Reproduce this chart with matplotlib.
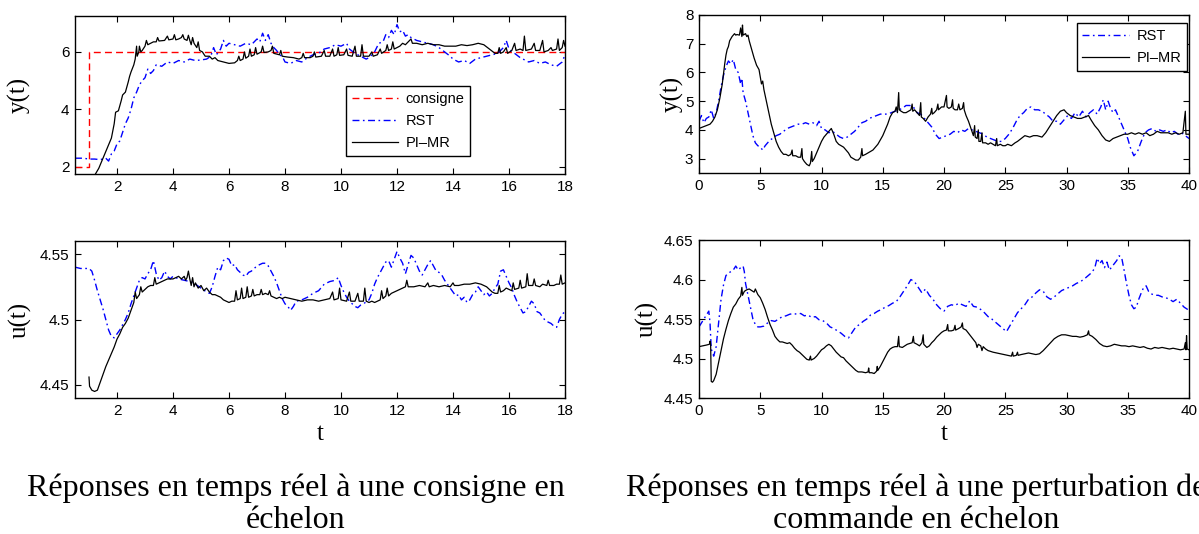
import numpy as np
import matplotlib
matplotlib.use("Agg")
import matplotlib.pyplot as plt

# ---- left: step on set-point ----
consigne_t = [0.5, 1.0, 1.0, 18.0]
consigne_y = [2.0, 2.0, 6.0, 6.0]

y1_pimr = [(1.2, 1.70), (1.35, 1.95), (1.5, 2.3), (1.65, 2.65), (1.8, 3.0), (1.9, 3.5), (1.95, 3.9), (2.05, 3.95),
           (2.15, 4.3), (2.2, 4.5), (2.3, 4.6), (2.4, 4.95), (2.45, 5.15), (2.5, 5.3), (2.6, 5.55), (2.65, 5.75),
           (2.7, 6.2), (2.72, 5.85), (2.78, 6.0), (2.8, 6.2), (2.85, 6.0), (2.9, 6.05), (3.0, 6.2), (3.05, 6.4),
           (3.1, 6.25), (3.2, 6.3), (3.3, 6.35), (3.4, 6.35), (3.45, 6.5), (3.5, 6.38), (3.7, 6.4), (3.8, 6.55),
           (3.85, 6.42), (4.0, 6.45), (4.05, 6.6), (4.1, 6.42), (4.2, 6.45), (4.3, 6.5), (4.35, 6.6), (4.4, 6.45),
           (4.5, 6.4), (4.55, 6.58), (4.6, 6.4), (4.65, 6.25), (4.7, 6.5), (4.75, 6.3), (4.85, 6.15), (4.9, 6.35),
           (4.95, 6.05), (5.05, 6.0), (5.15, 5.85), (5.3, 5.85), (5.4, 5.75), (5.5, 5.8), (5.6, 5.7), (5.8, 5.65),
           (6.0, 5.6), (6.2, 5.62), (6.3, 5.7), (6.35, 5.85), (6.4, 5.7), (6.5, 5.75), (6.55, 6.0), (6.6, 5.78),
           (6.7, 5.85), (6.75, 6.1), (6.8, 5.85), (6.9, 5.9), (6.95, 6.15), (7.0, 5.92), (7.15, 6.0), (7.2, 6.2),
           (7.25, 5.98), (7.4, 6.0), (7.5, 6.05), (7.55, 6.2), (7.6, 5.95), (7.8, 5.9), (7.85, 6.05), (7.9, 5.85),
           (8.1, 5.82), (8.3, 5.8), (8.5, 5.75), (8.6, 5.8), (8.65, 5.95), (8.7, 5.8), (8.9, 5.8), (9.0, 5.85),
           (9.05, 6.0), (9.1, 5.82), (9.3, 5.85), (9.4, 6.05), (9.45, 5.85), (9.6, 5.85), (9.7, 6.1), (9.75, 5.85),
           (9.85, 5.9), (9.9, 6.15), (9.95, 5.88), (10.1, 5.9), (10.2, 6.1), (10.25, 5.88), (10.4, 5.85),
           (10.5, 6.2), (10.55, 5.85), (10.7, 5.85), (10.75, 6.25), (10.8, 5.85), (11.0, 5.85), (11.1, 6.0),
           (11.15, 5.85), (11.3, 5.9), (11.4, 6.1), (11.45, 5.95), (11.6, 6.05), (11.65, 6.25), (11.7, 6.05),
           (11.8, 6.1), (11.85, 6.35), (11.9, 6.1), (12.0, 6.15), (12.1, 6.2), (12.2, 6.3), (12.3, 6.25),
           (12.4, 6.35), (12.5, 6.45), (12.55, 6.3), (12.7, 6.3), (12.9, 6.25), (13.1, 6.3), (13.3, 6.25),
           (13.5, 6.25), (13.7, 6.2), (13.9, 6.2), (14.1, 6.2), (14.3, 6.25), (14.5, 6.22), (14.7, 6.25),
           (14.9, 6.3), (15.1, 6.25), (15.3, 6.1), (15.5, 5.95), (15.6, 5.95), (15.65, 6.15), (15.7, 5.95),
           (15.8, 6.0), (15.9, 6.15), (15.95, 5.95), (16.1, 6.05), (16.2, 6.3), (16.25, 6.05), (16.4, 6.1),
           (16.5, 6.05), (16.55, 6.55), (16.6, 6.05), (16.8, 6.1), (16.9, 6.3), (16.95, 6.05), (17.1, 6.05),
           (17.2, 6.4), (17.25, 6.0), (17.4, 6.05), (17.5, 6.15), (17.55, 6.05), (17.7, 6.1), (17.75, 6.45),
           (17.8, 6.05), (17.9, 6.15), (17.95, 6.4), (18.0, 6.2)]

y1_rst = [(0.5, 2.3), (0.8, 2.3), (1.0, 2.27), (1.2, 2.27), (1.4, 2.25), (1.6, 2.3), (1.7, 2.2), (1.8, 2.45),
          (1.9, 2.55), (2.0, 2.8), (2.1, 2.9), (2.2, 3.2), (2.3, 3.5), (2.4, 3.7), (2.5, 4.0), (2.6, 4.4),
          (2.7, 4.6), (2.8, 4.85), (2.9, 5.0), (3.0, 5.1), (3.1, 5.4), (3.2, 5.25), (3.3, 5.35), (3.4, 5.55),
          (3.6, 5.5), (3.8, 5.65), (4.0, 5.6), (4.2, 5.7), (4.4, 5.65), (4.6, 5.75), (4.8, 5.7), (5.0, 5.72),
          (5.2, 5.75), (5.35, 5.85), (5.45, 6.15), (5.55, 5.9), (5.7, 6.1), (5.8, 6.4), (5.9, 6.2), (6.0, 6.3),
          (6.2, 6.25), (6.4, 6.2), (6.6, 6.3), (6.8, 6.25), (7.0, 6.45), (7.1, 6.35), (7.2, 6.65), (7.3, 6.4),
          (7.4, 6.6), (7.5, 6.3), (7.6, 6.15), (7.7, 6.05), (7.8, 5.9), (7.9, 5.85), (8.0, 5.65), (8.2, 5.6),
          (8.4, 5.7), (8.6, 5.65), (8.8, 5.8), (9.0, 5.9), (9.2, 5.95), (9.4, 6.1), (9.6, 6.15), (9.8, 6.25),
          (10.0, 6.2), (10.2, 6.3), (10.3, 6.1), (10.5, 5.95), (10.7, 5.85), (10.9, 5.75), (11.0, 5.8),
          (11.2, 6.0), (11.35, 6.3), (11.5, 6.35), (11.6, 6.6), (11.7, 6.5), (11.8, 6.75), (11.9, 6.6),
          (12.0, 6.95), (12.1, 6.7), (12.2, 6.75), (12.3, 6.55), (12.4, 6.6), (12.5, 6.5), (12.7, 6.4),
          (12.9, 6.35), (13.1, 6.3), (13.3, 6.25), (13.5, 6.15), (13.7, 6.0), (13.9, 5.85), (14.0, 5.75),
          (14.2, 5.65), (14.4, 5.7), (14.6, 5.6), (14.8, 5.75), (15.0, 5.8), (15.2, 5.85), (15.4, 5.9),
          (15.6, 5.95), (15.8, 6.15), (15.9, 6.4), (16.0, 6.1), (16.2, 5.95), (16.4, 5.8), (16.5, 5.75),
          (16.7, 5.65), (16.9, 5.7), (17.1, 5.6), (17.3, 5.65), (17.5, 5.55), (17.7, 5.5), (17.9, 5.65),
          (18.0, 5.9)]

u1_pimr = [(1.0, 4.456), (1.02, 4.449), (1.1, 4.446), (1.2, 4.445), (1.3, 4.446), (1.4, 4.452), (1.5, 4.458),
           (1.6, 4.464), (1.7, 4.469), (1.8, 4.474), (1.9, 4.479), (2.0, 4.485), (2.1, 4.489), (2.2, 4.494),
           (2.3, 4.497), (2.4, 4.501), (2.5, 4.507), (2.6, 4.513), (2.65, 4.521), (2.7, 4.516), (2.8, 4.519),
           (2.85, 4.525), (2.9, 4.521), (3.0, 4.523), (3.1, 4.525), (3.2, 4.526), (3.3, 4.526), (3.35, 4.532),
           (3.4, 4.527), (3.5, 4.528), (3.6, 4.529), (3.7, 4.530), (3.8, 4.531), (3.9, 4.531), (4.0, 4.531),
           (4.1, 4.532), (4.2, 4.533), (4.3, 4.531), (4.4, 4.533), (4.45, 4.530), (4.5, 4.532), (4.55, 4.537),
           (4.6, 4.531), (4.65, 4.526), (4.7, 4.532), (4.75, 4.525), (4.8, 4.528), (4.9, 4.524), (5.0, 4.526),
           (5.1, 4.522), (5.2, 4.524), (5.3, 4.521), (5.4, 4.519), (5.5, 4.519), (5.6, 4.518), (5.7, 4.517),
           (5.8, 4.515), (5.9, 4.514), (6.0, 4.513), (6.1, 4.514), (6.2, 4.514), (6.25, 4.522), (6.3, 4.515),
           (6.4, 4.516), (6.45, 4.524), (6.5, 4.516), (6.6, 4.517), (6.65, 4.525), (6.7, 4.517), (6.8, 4.518),
           (6.85, 4.523), (6.9, 4.518), (7.0, 4.519), (7.1, 4.519), (7.15, 4.523), (7.2, 4.519), (7.3, 4.520),
           (7.4, 4.519), (7.45, 4.522), (7.5, 4.518), (7.6, 4.517), (7.7, 4.516), (7.8, 4.517), (7.9, 4.516),
           (8.0, 4.517), (8.2, 4.516), (8.4, 4.515), (8.6, 4.514), (8.8, 4.515), (9.0, 4.515), (9.2, 4.514),
           (9.4, 4.515), (9.6, 4.516), (9.7, 4.521), (9.75, 4.515), (9.9, 4.516), (9.95, 4.524), (10.0, 4.515),
           (10.2, 4.514), (10.3, 4.521), (10.35, 4.514), (10.5, 4.514), (10.6, 4.520), (10.65, 4.514),
           (10.8, 4.514), (10.85, 4.524), (10.9, 4.514), (11.0, 4.513), (11.1, 4.514), (11.2, 4.513),
           (11.3, 4.514), (11.4, 4.515), (11.45, 4.522), (11.5, 4.516), (11.6, 4.518), (11.65, 4.524),
           (11.7, 4.518), (11.8, 4.520), (11.9, 4.521), (12.0, 4.522), (12.1, 4.523), (12.2, 4.524),
           (12.3, 4.525), (12.35, 4.530), (12.4, 4.525), (12.6, 4.525), (12.8, 4.526), (13.0, 4.525),
           (13.1, 4.528), (13.15, 4.525), (13.3, 4.526), (13.5, 4.525), (13.7, 4.526), (13.9, 4.525),
           (14.0, 4.528), (14.05, 4.526), (14.2, 4.526), (14.4, 4.527), (14.6, 4.527), (14.8, 4.528),
           (15.0, 4.527), (15.2, 4.525), (15.4, 4.521), (15.5, 4.520), (15.6, 4.520), (15.65, 4.526),
           (15.7, 4.521), (15.8, 4.522), (15.9, 4.524), (16.0, 4.523), (16.1, 4.522), (16.15, 4.528),
           (16.2, 4.523), (16.35, 4.524), (16.4, 4.530), (16.45, 4.524), (16.6, 4.525), (16.65, 4.535),
           (16.7, 4.526), (16.85, 4.526), (16.9, 4.531), (16.95, 4.526), (17.1, 4.525), (17.2, 4.527),
           (17.35, 4.526), (17.4, 4.530), (17.45, 4.526), (17.6, 4.526), (17.7, 4.527), (17.8, 4.527),
           (17.85, 4.534), (17.9, 4.527), (18.0, 4.528)]

u1_rst = [(0.5, 4.540), (0.7, 4.539), (1.0, 4.539), (1.1, 4.537), (1.2, 4.530), (1.3, 4.522), (1.4, 4.515),
          (1.5, 4.508), (1.6, 4.500), (1.7, 4.492), (1.8, 4.487), (1.9, 4.486), (2.0, 4.489), (2.1, 4.492),
          (2.2, 4.496), (2.3, 4.500), (2.4, 4.505), (2.5, 4.512), (2.6, 4.518), (2.7, 4.524), (2.8, 4.530),
          (2.9, 4.532), (3.0, 4.531), (3.1, 4.535), (3.2, 4.538), (3.3, 4.545), (3.4, 4.535), (3.5, 4.530),
          (3.6, 4.532), (3.7, 4.537), (3.8, 4.533), (3.9, 4.531), (4.0, 4.533), (4.2, 4.531), (4.4, 4.530),
          (4.6, 4.529), (4.8, 4.527), (5.0, 4.524), (5.2, 4.521), (5.3, 4.520), (5.4, 4.525), (5.5, 4.533),
          (5.6, 4.540), (5.7, 4.538), (5.8, 4.545), (5.9, 4.547), (6.0, 4.546), (6.1, 4.541), (6.2, 4.542),
          (6.3, 4.538), (6.4, 4.536), (6.5, 4.534), (6.6, 4.533), (6.7, 4.536), (6.8, 4.537), (6.9, 4.539),
          (7.0, 4.541), (7.1, 4.542), (7.2, 4.543), (7.3, 4.543), (7.4, 4.541), (7.5, 4.537), (7.6, 4.533),
          (7.7, 4.528), (7.8, 4.522), (7.9, 4.516), (8.0, 4.512), (8.1, 4.510), (8.2, 4.507), (8.3, 4.510),
          (8.4, 4.514), (8.6, 4.515), (8.8, 4.517), (9.0, 4.520), (9.2, 4.522), (9.4, 4.527), (9.6, 4.529),
          (9.8, 4.530), (9.9, 4.532), (10.0, 4.526), (10.1, 4.521), (10.2, 4.517), (10.3, 4.514), (10.4, 4.512),
          (10.5, 4.510), (10.6, 4.509), (10.7, 4.511), (10.8, 4.512), (11.0, 4.515), (11.1, 4.520),
          (11.2, 4.527), (11.3, 4.532), (11.4, 4.536), (11.5, 4.540), (11.6, 4.544), (11.7, 4.545),
          (11.8, 4.540), (11.9, 4.546), (12.0, 4.552), (12.1, 4.547), (12.2, 4.543), (12.3, 4.535),
          (12.4, 4.542), (12.5, 4.549), (12.6, 4.547), (12.7, 4.542), (12.8, 4.537), (12.9, 4.534),
          (13.0, 4.538), (13.1, 4.542), (13.2, 4.545), (13.3, 4.541), (13.4, 4.537), (13.5, 4.536),
          (13.6, 4.534), (13.7, 4.530), (13.8, 4.527), (13.9, 4.524), (14.0, 4.521), (14.1, 4.518),
          (14.2, 4.519), (14.3, 4.515), (14.4, 4.517), (14.5, 4.513), (14.6, 4.515), (14.7, 4.519),
          (14.8, 4.521), (14.9, 4.525), (15.0, 4.522), (15.1, 4.519), (15.2, 4.521), (15.3, 4.518),
          (15.4, 4.520), (15.5, 4.524), (15.6, 4.527), (15.7, 4.537), (15.8, 4.538), (15.9, 4.533),
          (16.0, 4.528), (16.1, 4.524), (16.2, 4.518), (16.3, 4.513), (16.4, 4.509), (16.5, 4.505),
          (16.6, 4.506), (16.7, 4.510), (16.8, 4.514), (16.9, 4.512), (17.0, 4.506), (17.1, 4.505),
          (17.2, 4.502), (17.3, 4.499), (17.4, 4.498), (17.5, 4.497), (17.6, 4.495), (17.7, 4.494),
          (17.8, 4.500), (17.9, 4.504), (18.0, 4.506)]

# ---- right: step disturbance on the command ----
y2_pimr = [(0.0, 4.05), (0.3, 4.1), (0.6, 4.15), (0.9, 4.2), (1.1, 4.3), (1.3, 4.45), (1.5, 4.7), (1.7, 5.1),
           (1.9, 5.6), (2.1, 6.3), (2.2, 6.6), (2.3, 6.8), (2.4, 6.9), (2.5, 7.1), (2.7, 7.25), (2.9, 7.35),
           (3.0, 7.3), (3.1, 7.32), (3.3, 7.3), (3.4, 7.55), (3.5, 7.25), (3.55, 7.65), (3.6, 7.3), (3.8, 7.35),
           (3.9, 7.25), (4.0, 7.3), (4.1, 7.1), (4.3, 6.8), (4.5, 6.5), (4.7, 6.25), (4.9, 6.1), (5.0, 5.85),
           (5.1, 5.6), (5.2, 5.7), (5.3, 5.4), (5.5, 5.0), (5.7, 4.6), (5.9, 4.2), (6.1, 3.9), (6.3, 3.6),
           (6.5, 3.4), (6.7, 3.25), (6.9, 3.15), (7.1, 3.15), (7.3, 3.1), (7.5, 3.15), (7.6, 3.3), (7.65, 3.1),
           (7.9, 3.1), (8.1, 3.05), (8.3, 3.05), (8.4, 3.35), (8.45, 3.0), (8.6, 2.9), (8.8, 2.8), (9.0, 2.75),
           (9.1, 2.85), (9.2, 3.25), (9.25, 2.9), (9.4, 3.0), (9.6, 3.2), (9.8, 3.4), (10.0, 3.6), (10.2, 3.75),
           (10.4, 3.85), (10.6, 3.95), (10.8, 4.05), (11.0, 3.85), (11.2, 3.6), (11.4, 3.5), (11.6, 3.45),
           (11.8, 3.4), (12.0, 3.3), (12.2, 3.2), (12.4, 3.05), (12.6, 3.0), (12.8, 2.95), (13.0, 2.95),
           (13.2, 3.05), (13.3, 3.35), (13.35, 3.1), (13.6, 3.15), (13.8, 3.2), (14.0, 3.25), (14.2, 3.3),
           (14.4, 3.4), (14.6, 3.5), (14.8, 3.65), (15.0, 3.8), (15.2, 4.0), (15.4, 4.2), (15.6, 4.45),
           (15.8, 4.6), (16.0, 4.65), (16.1, 4.8), (16.2, 4.6), (16.3, 5.3), (16.35, 4.7), (16.5, 4.65),
           (16.7, 4.6), (16.9, 4.6), (17.1, 4.65), (17.3, 4.7), (17.4, 4.9), (17.45, 4.65), (17.6, 4.7),
           (17.8, 4.6), (18.0, 4.5), (18.1, 4.95), (18.15, 4.45), (18.3, 4.4), (18.5, 4.3), (18.7, 4.45),
           (18.9, 4.55), (19.0, 4.75), (19.05, 4.55), (19.2, 4.6), (19.4, 4.7), (19.5, 4.9), (19.55, 4.7),
           (19.8, 4.8), (20.0, 4.8), (20.2, 5.2), (20.25, 4.8), (20.4, 4.75), (20.6, 4.8), (20.7, 5.05),
           (20.75, 4.75), (20.9, 4.7), (21.1, 4.7), (21.2, 4.9), (21.3, 4.7), (21.5, 4.75), (21.6, 4.95),
           (21.65, 4.7), (21.8, 4.5), (22.0, 4.3), (22.2, 4.05), (22.4, 3.8), (22.5, 4.15), (22.55, 3.75),
           (22.7, 3.7), (22.8, 4.0), (22.85, 3.6), (23.0, 3.6), (23.1, 3.9), (23.15, 3.55), (23.4, 3.55),
           (23.6, 3.5), (23.8, 3.55), (24.0, 3.5), (24.2, 3.45), (24.3, 3.7), (24.35, 3.45), (24.6, 3.5),
           (24.8, 3.45), (25.0, 3.45), (25.2, 3.5), (25.5, 3.45), (25.8, 3.55), (26.0, 3.6), (26.3, 3.7),
           (26.6, 3.8), (27.0, 3.75), (27.3, 3.8), (27.6, 3.8), (28.0, 3.75), (28.3, 3.9), (28.6, 4.1),
           (28.9, 4.3), (29.2, 4.5), (29.5, 4.65), (29.8, 4.7), (30.0, 4.6), (30.3, 4.5), (30.6, 4.45),
           (30.9, 4.4), (31.2, 4.4), (31.5, 4.45), (31.8, 4.5), (32.0, 4.35), (32.3, 4.15), (32.6, 4.0),
           (32.9, 3.8), (33.2, 3.65), (33.5, 3.6), (33.8, 3.7), (34.1, 3.75), (34.4, 3.8), (34.7, 3.85),
           (35.0, 3.85), (35.3, 3.9), (35.6, 3.85), (35.9, 3.9), (36.2, 3.85), (36.5, 3.9), (36.8, 3.8),
           (37.1, 3.85), (37.4, 3.95), (37.7, 3.9), (38.0, 3.9), (38.3, 3.9), (38.6, 3.85), (38.9, 3.9),
           (39.2, 3.85), (39.5, 3.9), (39.7, 4.65), (39.75, 3.85), (40.0, 3.85)]

y2_rst = [(0.0, 4.3), (0.2, 4.5), (0.4, 4.25), (0.6, 4.4), (0.8, 4.45), (1.0, 4.7), (1.2, 4.4), (1.4, 4.6),
          (1.6, 5.0), (1.8, 5.5), (2.0, 5.9), (2.2, 6.2), (2.4, 6.4), (2.6, 6.3), (2.8, 6.45), (3.0, 6.1),
          (3.2, 6.0), (3.4, 5.6), (3.5, 5.8), (3.6, 5.3), (3.8, 5.0), (4.0, 4.6), (4.2, 4.2), (4.4, 3.8),
          (4.6, 3.55), (4.8, 3.45), (5.0, 3.4), (5.2, 3.3), (5.4, 3.45), (5.6, 3.55), (5.8, 3.65), (6.0, 3.7),
          (6.3, 3.8), (6.6, 3.85), (6.9, 3.95), (7.2, 4.05), (7.5, 4.1), (7.8, 4.15), (8.1, 4.2), (8.4, 4.2),
          (8.7, 4.25), (9.0, 4.2), (9.3, 4.25), (9.6, 4.15), (9.8, 4.3), (10.0, 4.05), (10.3, 4.0), (10.6, 3.9),
          (10.9, 3.95), (11.2, 3.85), (11.5, 3.75), (11.8, 3.7), (12.1, 3.75), (12.4, 3.85), (12.7, 3.95),
          (13.0, 4.1), (13.3, 4.25), (13.6, 4.3), (13.9, 4.4), (14.2, 4.45), (14.5, 4.5), (14.8, 4.55),
          (15.1, 4.55), (15.4, 4.55), (15.7, 4.6), (16.0, 4.65), (16.3, 4.7), (16.6, 4.75), (16.9, 4.85),
          (17.2, 4.85), (17.5, 4.8), (17.8, 4.6), (18.1, 4.55), (18.4, 4.4), (18.7, 4.25), (19.0, 4.1),
          (19.3, 3.85), (19.6, 3.7), (19.9, 3.75), (20.2, 3.8), (20.5, 3.85), (20.8, 3.95), (21.1, 3.9),
          (21.4, 4.0), (21.7, 3.95), (22.0, 4.05), (22.3, 4.0), (22.6, 3.95), (22.9, 3.9), (23.2, 3.85),
          (23.5, 3.75), (23.8, 3.7), (24.1, 3.65), (24.4, 3.6), (24.7, 3.6), (25.0, 3.7), (25.3, 3.85),
          (25.6, 4.05), (25.9, 4.3), (26.2, 4.5), (26.5, 4.6), (26.8, 4.75), (27.1, 4.8), (27.4, 4.7),
          (27.7, 4.7), (28.0, 4.65), (28.3, 4.55), (28.6, 4.45), (28.9, 4.3), (29.2, 4.3), (29.5, 4.2),
          (29.8, 4.35), (30.1, 4.5), (30.4, 4.4), (30.7, 4.6), (31.0, 4.45), (31.3, 4.65), (31.6, 4.45),
          (31.9, 4.6), (32.2, 4.7), (32.5, 4.55), (32.8, 4.8), (33.0, 5.05), (33.2, 4.7), (33.4, 5.0),
          (33.6, 4.75), (33.8, 4.6), (34.0, 4.7), (34.2, 4.5), (34.4, 4.3), (34.6, 4.1), (34.8, 3.9),
          (35.0, 3.7), (35.2, 3.4), (35.5, 3.1), (35.8, 3.25), (36.1, 3.6), (36.4, 3.9), (36.7, 4.0),
          (37.0, 4.05), (37.3, 3.95), (37.6, 4.0), (37.9, 3.95), (38.2, 4.0), (38.5, 3.9), (38.8, 3.95),
          (39.1, 3.85), (39.4, 3.9), (39.7, 3.8), (40.0, 3.7)]

u2_pimr = [(0.0, 4.515), (0.3, 4.516), (0.6, 4.517), (0.85, 4.518), (0.9, 4.522), (0.95, 4.518), (1.0, 4.471),
           (1.1, 4.470), (1.2, 4.472), (1.4, 4.480), (1.6, 4.495), (1.8, 4.510), (2.0, 4.525), (2.2, 4.537),
           (2.4, 4.548), (2.6, 4.557), (2.8, 4.565), (3.0, 4.569), (3.2, 4.575), (3.4, 4.579), (3.5, 4.590),
           (3.55, 4.580), (3.7, 4.585), (3.9, 4.587), (4.1, 4.588), (4.3, 4.586), (4.5, 4.584), (4.6, 4.588),
           (4.8, 4.581), (5.0, 4.577), (5.2, 4.570), (5.4, 4.562), (5.6, 4.552), (5.8, 4.543), (6.0, 4.536),
           (6.2, 4.528), (6.4, 4.524), (6.6, 4.521), (6.8, 4.521), (7.0, 4.520), (7.2, 4.519), (7.4, 4.520),
           (7.6, 4.517), (7.8, 4.513), (8.0, 4.510), (8.2, 4.508), (8.4, 4.505), (8.6, 4.502), (8.8, 4.499),
           (9.0, 4.498), (9.1, 4.503), (9.15, 4.498), (9.4, 4.500), (9.6, 4.503), (9.8, 4.507), (10.0, 4.511),
           (10.2, 4.513), (10.4, 4.516), (10.6, 4.518), (10.8, 4.516), (11.0, 4.512), (11.2, 4.508),
           (11.4, 4.505), (11.6, 4.502), (11.8, 4.501), (12.0, 4.497), (12.2, 4.494), (12.4, 4.491),
           (12.6, 4.488), (12.8, 4.485), (13.0, 4.483), (13.3, 4.483), (13.6, 4.482), (13.8, 4.483),
           (13.85, 4.488), (13.9, 4.482), (14.1, 4.482), (14.3, 4.481), (14.5, 4.484), (14.55, 4.490),
           (14.6, 4.485), (14.8, 4.490), (15.0, 4.496), (15.2, 4.502), (15.4, 4.508), (15.6, 4.512),
           (15.8, 4.514), (16.0, 4.515), (16.2, 4.515), (16.3, 4.528), (16.35, 4.515), (16.6, 4.514),
           (16.8, 4.516), (17.0, 4.518), (17.2, 4.519), (17.4, 4.520), (17.5, 4.528), (17.55, 4.520),
           (17.8, 4.518), (18.0, 4.516), (18.2, 4.520), (18.3, 4.530), (18.35, 4.518), (18.6, 4.514),
           (18.8, 4.516), (19.0, 4.520), (19.2, 4.523), (19.4, 4.527), (19.6, 4.530), (19.8, 4.533),
           (20.0, 4.535), (20.2, 4.536), (20.3, 4.543), (20.35, 4.535), (20.6, 4.535), (20.8, 4.536),
           (20.9, 4.542), (20.95, 4.536), (21.2, 4.538), (21.4, 4.540), (21.5, 4.545), (21.55, 4.538),
           (21.8, 4.536), (22.0, 4.532), (22.2, 4.528), (22.4, 4.524), (22.6, 4.520), (22.7, 4.514),
           (22.8, 4.518), (23.0, 4.516), (23.1, 4.510), (23.2, 4.515), (23.4, 4.512), (23.6, 4.510),
           (23.8, 4.509), (24.0, 4.508), (24.3, 4.507), (24.6, 4.506), (24.9, 4.505), (25.2, 4.504),
           (25.5, 4.503), (25.6, 4.508), (25.65, 4.503), (25.9, 4.504), (26.0, 4.508), (26.05, 4.504),
           (26.3, 4.505), (26.6, 4.506), (26.9, 4.507), (27.2, 4.506), (27.5, 4.505), (27.8, 4.506),
           (28.1, 4.510), (28.4, 4.515), (28.7, 4.520), (29.0, 4.525), (29.3, 4.528), (29.6, 4.530),
           (29.9, 4.530), (30.2, 4.529), (30.5, 4.528), (30.8, 4.528), (31.1, 4.527), (31.4, 4.528),
           (31.7, 4.530), (31.8, 4.535), (31.85, 4.530), (32.1, 4.528), (32.4, 4.524), (32.7, 4.519),
           (33.0, 4.516), (33.3, 4.515), (33.6, 4.516), (33.9, 4.518), (34.2, 4.517), (34.5, 4.516),
           (34.8, 4.516), (35.1, 4.515), (35.4, 4.516), (35.7, 4.515), (36.0, 4.514), (36.3, 4.515),
           (36.6, 4.513), (36.9, 4.512), (37.2, 4.514), (37.5, 4.513), (37.8, 4.514), (38.1, 4.513),
           (38.4, 4.512), (38.7, 4.513), (39.0, 4.512), (39.3, 4.511), (39.6, 4.512), (39.7, 4.520),
           (39.75, 4.511), (39.8, 4.529), (39.85, 4.512), (40.0, 4.511)]

u2_rst = [(0.0, 4.540), (0.2, 4.545), (0.4, 4.550), (0.6, 4.555), (0.8, 4.560), (0.9, 4.545), (1.0, 4.512),
          (1.2, 4.503), (1.4, 4.515), (1.6, 4.545), (1.8, 4.575), (2.0, 4.593), (2.2, 4.605), (2.4, 4.608),
          (2.6, 4.610), (2.8, 4.612), (3.0, 4.617), (3.2, 4.612), (3.4, 4.615), (3.6, 4.617), (3.7, 4.610),
          (3.8, 4.595), (4.0, 4.580), (4.2, 4.565), (4.4, 4.550), (4.6, 4.543), (4.8, 4.540), (5.0, 4.540),
          (5.3, 4.541), (5.6, 4.545), (5.9, 4.548), (6.2, 4.547), (6.5, 4.550), (6.8, 4.553), (7.1, 4.554),
          (7.4, 4.556), (7.7, 4.557), (8.0, 4.556), (8.3, 4.557), (8.6, 4.554), (8.9, 4.555), (9.2, 4.552),
          (9.5, 4.553), (9.8, 4.549), (10.1, 4.548), (10.4, 4.545), (10.7, 4.540), (11.0, 4.538),
          (11.3, 4.535), (11.6, 4.532), (11.9, 4.528), (12.2, 4.526), (12.5, 4.533), (12.8, 4.540),
          (13.1, 4.543), (13.4, 4.547), (13.7, 4.550), (14.0, 4.555), (14.3, 4.557), (14.6, 4.560),
          (14.9, 4.562), (15.2, 4.565), (15.5, 4.567), (15.8, 4.570), (16.1, 4.572), (16.4, 4.578),
          (16.7, 4.585), (17.0, 4.592), (17.3, 4.600), (17.6, 4.597), (17.9, 4.590), (18.2, 4.583),
          (18.5, 4.588), (18.8, 4.580), (19.1, 4.575), (19.4, 4.568), (19.7, 4.563), (20.0, 4.560),
          (20.3, 4.566), (20.6, 4.568), (20.9, 4.567), (21.2, 4.570), (21.5, 4.568), (21.8, 4.566),
          (22.1, 4.573), (22.4, 4.566), (22.7, 4.565), (23.0, 4.562), (23.3, 4.558), (23.6, 4.553),
          (23.9, 4.550), (24.2, 4.546), (24.5, 4.542), (24.8, 4.538), (25.1, 4.534), (25.4, 4.542),
          (25.7, 4.550), (26.0, 4.558), (26.3, 4.563), (26.6, 4.568), (26.9, 4.575), (27.2, 4.578),
          (27.5, 4.583), (27.8, 4.587), (28.1, 4.585), (28.4, 4.578), (28.7, 4.575), (29.0, 4.578),
          (29.3, 4.582), (29.6, 4.586), (29.9, 4.588), (30.2, 4.590), (30.5, 4.592), (30.8, 4.595),
          (31.1, 4.597), (31.4, 4.600), (31.7, 4.604), (32.0, 4.608), (32.3, 4.614), (32.5, 4.627),
          (32.7, 4.620), (32.9, 4.624), (33.1, 4.615), (33.3, 4.622), (33.5, 4.612), (33.7, 4.616),
          (33.9, 4.620), (34.1, 4.624), (34.3, 4.630), (34.5, 4.628), (34.7, 4.612), (34.9, 4.595),
          (35.1, 4.580), (35.3, 4.568), (35.5, 4.563), (35.7, 4.565), (35.9, 4.575), (36.1, 4.583),
          (36.3, 4.590), (36.5, 4.592), (36.7, 4.585), (36.9, 4.582), (37.2, 4.580), (37.5, 4.580),
          (37.8, 4.578), (38.1, 4.577), (38.4, 4.575), (38.7, 4.572), (39.0, 4.575), (39.3, 4.570),
          (39.6, 4.565), (39.9, 4.562)]

left_xticks = [2, 4, 6, 8, 10, 12, 14, 16, 18]
right_xticks = [0, 5, 10, 15, 20, 25, 30, 35, 40]
y1_ticks = [2, 4, 6]
u1_ticks = [4.45, 4.5, 4.55]
u1_labels = ["4.45", "4.5", "4.55"]
y2_ticks = [3, 4, 5, 6, 7, 8]
u2_ticks = [4.45, 4.5, 4.55, 4.6, 4.65]
u2_labels = ["4.45", "4.5", "4.55", "4.6", "4.65"]

caption_left = "Réponses en temps réel à une consigne en\néchelon"
caption_right = "Réponses en temps réel à une perturbation de\ncommande en échelon"

# ---- figure ----
W, H = 1199, 534
fig = plt.figure(figsize=(W / 100, H / 100), dpi=100)
plt.rcParams['font.family'] = ['Liberation Sans', 'DejaVu Sans']

def box(x0, y0, x1, y1):
    return [x0 / W, 1 - y1 / H, (x1 - x0) / W, (y1 - y0) / H]

ax_y1 = fig.add_axes(box(75, 16, 565, 174))
ax_u1 = fig.add_axes(box(75, 241, 565, 398))
ax_y2 = fig.add_axes(box(699, 15, 1189, 173))
ax_u2 = fig.add_axes(box(699, 240, 1189, 398))

dashdot = (0, (5, 2.5, 1.2, 2.5))
serif = ['Liberation Serif', 'DejaVu Serif']

def xy(pairs):
    a = np.array(pairs)
    return a[:, 0], a[:, 1]

ax_y1.plot(consigne_t, consigne_y, color='red', ls=(0, (5, 3)), lw=1.0, label='consigne')
t, v = xy(y1_rst)
ax_y1.plot(t, v, color='blue', ls=dashdot, lw=1.0, label='RST')
t, v = xy(y1_pimr)
ax_y1.plot(t, v, color='black', lw=0.9, label='PI\u2013MR')

t, v = xy(u1_rst)
ax_u1.plot(t, v, color='blue', ls=dashdot, lw=1.0)
t, v = xy(u1_pimr)
ax_u1.plot(t, v, color='black', lw=0.9)

t, v = xy(y2_rst)
ax_y2.plot(t, v, color='blue', ls=dashdot, lw=1.0, label='RST')
t, v = xy(y2_pimr)
ax_y2.plot(t, v, color='black', lw=0.9, label='PI\u2013MR')

t, v = xy(u2_rst)
ax_u2.plot(t, v, color='blue', ls=dashdot, lw=1.0)
t, v = xy(u2_pimr)
ax_u2.plot(t, v, color='black', lw=0.9)

for ax in (ax_y1, ax_u1):
    ax.set_xlim(0.5, 18)
    ax.set_xticks(left_xticks)
for ax in (ax_y2, ax_u2):
    ax.set_xlim(0, 40)
    ax.set_xticks(right_xticks)

ax_y1.set_ylim(1.75, 7.25)
ax_y1.set_yticks(y1_ticks)
ax_u1.set_ylim(4.44, 4.56)
ax_u1.set_yticks(u1_ticks)
ax_u1.set_yticklabels(u1_labels)
ax_y2.set_ylim(2.5, 8)
ax_y2.set_yticks(y2_ticks)
ax_u2.set_ylim(4.45, 4.65)
ax_u2.set_yticks(u2_ticks)
ax_u2.set_yticklabels(u2_labels)

for ax in (ax_y1, ax_u1, ax_y2, ax_u2):
    ax.tick_params(direction='in', top=True, right=True, length=4, width=0.8,
                   labelsize=11, pad=4)
    for s in ax.spines.values():
        s.set_linewidth(1.0)

ax_y1.set_ylabel('y(t)', family=serif, fontsize=18, labelpad=22)
ax_u1.set_ylabel('u(t)', family=serif, fontsize=18, labelpad=6)
ax_y2.set_ylabel('y(t)', family=serif, fontsize=18, labelpad=1)
ax_u2.set_ylabel('u(t)', family=serif, fontsize=18, labelpad=4)
ax_u1.set_xlabel('t', family=serif, fontsize=18, labelpad=4)
ax_u2.set_xlabel('t', family=serif, fontsize=18, labelpad=4)

leg_kw = dict(fontsize=10.5, fancybox=False, framealpha=1, edgecolor='black',
              handlelength=3.2, handletextpad=0.5, labelspacing=0.55, borderaxespad=0)
l1 = ax_y1.legend(loc='upper left', bbox_to_anchor=(0.553, 0.557), **leg_kw)
l2 = ax_y2.legend(loc='upper right', bbox_to_anchor=(0.996, 0.95), **leg_kw)
for lg in (l1, l2):
    lg.get_frame().set_linewidth(1.0)

# the right caption runs past the right edge in the original too
fig.text(296 / W, 1 - 504 / H, caption_left, ha='center', va='center',
         family=serif, fontsize=23, linespacing=1.12)
fig.text(916 / W, 1 - 504 / H, caption_right, ha='center', va='center',
         family=serif, fontsize=23, linespacing=1.12)

fig.savefig('out.png', dpi=100)
